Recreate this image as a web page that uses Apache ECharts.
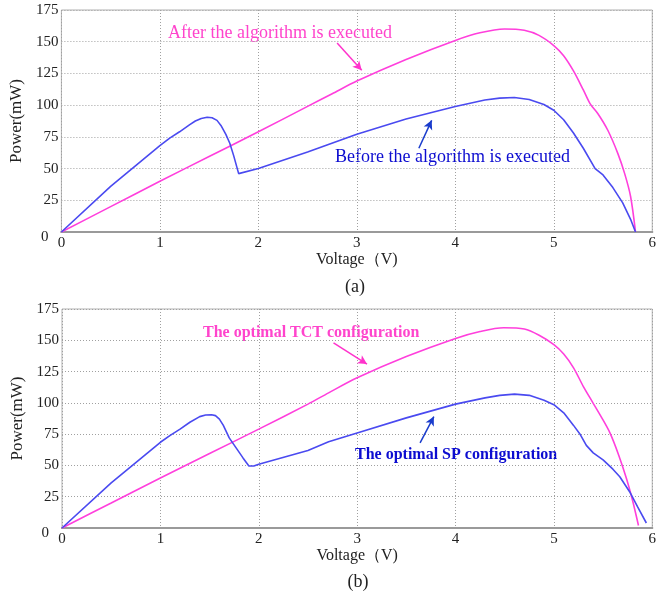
<!DOCTYPE html>
<html>
<head>
<meta charset="utf-8">
<script src="https://cdn.jsdelivr.net/npm/echarts@6/dist/echarts.min.js"></script>
<style>
  html, body { margin: 0; padding: 0; background: #fff; }
  #chart { width: 659px; height: 597px; }
</style>
</head>
<body>
<div id="chart"></div>
<script>
// (a) 算法执行前后的P-V曲线
const afterA = [[0, 0], [0.5, 20], [1, 40], [1.5, 59.5], [2, 79], [2.5, 99], [2.75, 109], [3, 119], [3.5, 136],
    [4, 151], [4.25, 157], [4.5, 160], [4.7, 159], [4.85, 155], [5, 147], [5.1, 139], [5.2, 127], [5.3, 112],
    [5.37, 101], [5.45, 93], [5.55, 80], [5.65, 62], [5.72, 46], [5.78, 28], [5.83, 0]];
const beforeA = [[0, 0], [0.5, 36], [1, 68], [1.1, 74], [1.2, 79], [1.3, 84.5], [1.36, 87.5], [1.42, 89.5],
    [1.48, 90.5], [1.53, 90], [1.58, 88], [1.62, 84], [1.67, 77], [1.71, 70], [1.75, 60], [1.8, 46], [2, 50],
    [2.5, 63], [3, 77], [3.5, 89], [4, 99], [4.3, 104], [4.45, 105.5], [4.6, 106], [4.75, 104.5], [4.9, 100.5],
    [5, 96], [5.1, 88.5], [5.2, 78], [5.3, 66], [5.42, 50], [5.5, 45], [5.6, 35], [5.7, 23], [5.78, 10], [5.83, 0]];
// (b) 最优TCT与最优SP配置
const tctB = [[0, 0], [0.5, 20], [1, 40], [1.5, 59.5], [2, 79], [2.5, 99], [2.71, 108], [3, 120], [3.5, 137],
    [4, 151.5], [4.25, 157], [4.49, 160], [4.7, 159], [4.85, 154], [5, 146.5], [5.1, 139], [5.2, 128], [5.3, 113],
    [5.39, 101], [5.48, 89], [5.57, 76], [5.66, 58], [5.74, 39], [5.8, 22], [5.86, 2]];
const spB = [[0, 0], [0.5, 36], [1, 68.5], [1.1, 74], [1.2, 79], [1.3, 84.5], [1.4, 89], [1.46, 90.3], [1.52, 90.5],
    [1.56, 89.8], [1.6, 87], [1.64, 82], [1.7, 72], [1.77, 64], [1.84, 56], [1.9, 49.5], [1.95, 49.5], [2, 51],
    [2.5, 62], [2.71, 69], [3, 76], [3.5, 88], [4, 99], [4.3, 104], [4.45, 106], [4.6, 107], [4.75, 106], [4.9, 102],
    [5, 98.5], [5.1, 92], [5.2, 82], [5.27, 74.5], [5.33, 66], [5.4, 60], [5.5, 54.5], [5.6, 47], [5.67, 41],
    [5.77, 29], [5.85, 17], [5.94, 4]];

const xTicks = [0, 1, 2, 3, 4, 5, 6];
const yTicks = [0, 25, 50, 75, 100, 125, 150, 175];

// 注释箭头（数据坐标）
const arrowAfterA = [[2.80, 149], [3.05, 127.5]];
const arrowBeforeA = [[3.63, 66], [3.76, 88]];
const arrowTctB = [[2.76, 148], [3.10, 131]];
const arrowSpB = [[3.64, 68], [3.78, 89]];

const pink = '#ff3fdc';
const blue = '#4a4af0';
const serif = '"Liberation Serif", "Times New Roman", serif';

const chart = echarts.init(document.getElementById('chart'), null, {renderer: 'canvas'});

const makeX = (gridIndex, gap) => ({
    type: 'value', gridIndex: gridIndex, min: xTicks[0], max: xTicks[xTicks.length - 1], interval: 1,
    name: 'Voltage（V)', nameLocation: 'middle', nameGap: gap,
    nameTextStyle: {fontFamily: serif, fontSize: 16, color: '#222'},
    axisLine: {show: true, onZero: false, lineStyle: {color: '#9a9a9a', width: 2}},
    axisTick: {show: false},
    axisLabel: {fontFamily: serif, fontSize: 15, color: '#222', margin: 4},
    splitLine: {show: true, lineStyle: {color: '#a0a0a0', type: [1, 2], width: 1}}
});
const makeTop = (gridIndex) => ({
    type: 'value', gridIndex: gridIndex, position: 'top', min: 0, max: 6,
    axisLine: {show: true, lineStyle: {color: '#9a9a9a', width: 2}},
    axisTick: {show: false}, axisLabel: {show: false}, splitLine: {show: false}
});
const makeY = (gridIndex, gap) => ({
    type: 'value', gridIndex: gridIndex, min: yTicks[0], max: yTicks[yTicks.length - 1], interval: 25,
    name: 'Power(mW)', nameLocation: 'middle', nameGap: gap,
    nameTextStyle: {fontFamily: serif, fontSize: 17, color: '#222'},
    axisLine: {show: false}, axisTick: {show: false},
    axisLabel: {
        fontFamily: serif, fontSize: 15, color: '#222', margin: 3,
        formatter: v => v === 0 ? '{z|0}' : String(v),
        rich: {z: {fontFamily: serif, fontSize: 15, color: '#222', padding: [10, 10, 0, 0]}}
    },
    splitLine: {show: true, lineStyle: {color: '#a0a0a0', type: [1, 2], width: 1}}
});

const arrowLine = (pts, color) => ({
    silent: true, symbol: ['none', 'arrow'], symbolSize: [7, 9], animation: false,
    label: {show: false},
    lineStyle: {color: color, width: 1.5, type: 'solid'},
    data: [[{coord: pts[0]}, {coord: pts[1]}]]
});

const makeSeries = (name, data, color, idx, arrow, arrowColor, smooth) => ({
    name: name, type: 'line', data: data, xAxisIndex: idx, yAxisIndex: idx,
    showSymbol: false, smooth: smooth,
    lineStyle: {color: color, width: 1.6},
    emphasis: {disabled: true},
    markLine: arrowLine(arrow, arrowColor)
});

const option = {
    animation: false,
    grid: [
        {left: 55, top: 10, width: 600, height: 222, show: true, borderColor: '#b0b0b0', borderWidth: 1},
        {left: 62, top: 309, width: 594, height: 219, show: true, borderColor: '#b0b0b0', borderWidth: 1}
    ],
    xAxis: [makeX(0, 12), makeX(1, 19), makeTop(0), makeTop(1)],
    yAxis: [makeY(0, 34), makeY(1, 35)],
    series: [
        makeSeries('After the algorithm is executed', afterA, pink, 0, arrowAfterA, '#ff33cc', 0.3),
        makeSeries('Before the algorithm is executed', beforeA, blue, 0, arrowBeforeA, '#1a3ccc', false),
        makeSeries('The optimal TCT configuration', tctB, pink, 1, arrowTctB, '#ff33cc', 0.3),
        makeSeries('The optimal SP configuration', spB, blue, 1, arrowSpB, '#1a3ccc', false)
    ],
    graphic: [
        {type: 'text', x: 168, y: 33, silent: true,
            style: {text: 'After the algorithm is executed', fill: '#ff44cc', font: '18px ' + serif, verticalAlign: 'middle'}},
        {type: 'text', x: 335, y: 157, silent: true,
            style: {text: 'Before the algorithm is executed', fill: '#0c0cd0', font: '18px ' + serif, verticalAlign: 'middle'}},
        {type: 'text', x: 203, y: 333, silent: true,
            style: {text: 'The optimal TCT configuration', fill: '#ff44cc', font: 'bold 16px ' + serif, verticalAlign: 'middle'}},
        {type: 'text', x: 355, y: 455, silent: true,
            style: {text: 'The optimal SP configuration', fill: '#0c0cd0', font: 'bold 16px ' + serif, verticalAlign: 'middle'}},
        {type: 'text', x: 355, y: 287, silent: true,
            style: {text: '(a)', fill: '#222', font: '18px ' + serif, align: 'center', verticalAlign: 'middle'}},
        {type: 'text', x: 358, y: 582, silent: true,
            style: {text: '(b)', fill: '#222', font: '18px ' + serif, align: 'center', verticalAlign: 'middle'}}
    ]
};

chart.setOption(option);
</script>
</body>
</html>
